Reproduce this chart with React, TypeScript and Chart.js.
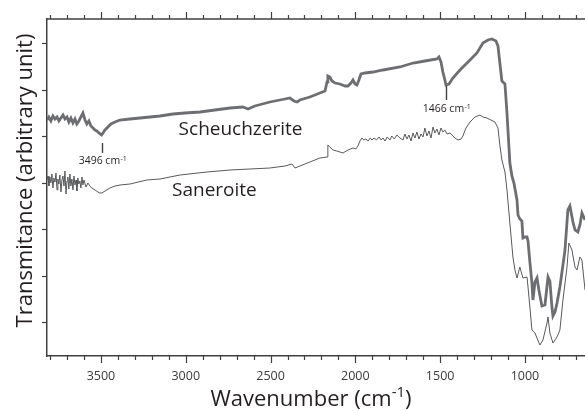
import { useEffect, useRef } from 'react';
import { Chart, registerables } from 'chart.js';

Chart.register(...registerables);

// ---- data (wavenumber in cm-1, transmittance in arbitrary units) ----
const scheuchWavenumber = [
  3818, 3807, 3795, 3783, 3771, 3759, 3748, 3736, 3724, 3712, 3700, 3689, 3677, 3665, 3653, 3642, 3630, 3618,
  3606, 3594, 3583, 3571, 3559, 3547, 3535, 3524, 3512, 3496, 3488, 3476, 3459, 3441, 3417, 3388, 3329, 3270,
  3211, 3152, 3075, 3005, 2916, 2828, 2739, 2663, 2633, 2592, 2504, 2415, 2386, 2362, 2344, 2327, 2268, 2209,
  2179, 2167, 2162, 2150, 2138, 2120, 2091, 2061, 2044, 2026, 2014, 2002, 1991, 1979, 1967, 1943, 1896, 1837,
  1737, 1660, 1590, 1519, 1507, 1495, 1484, 1472, 1466, 1448, 1425, 1383, 1324, 1283, 1248, 1218, 1195, 1171,
  1159, 1148, 1136, 1130, 1118, 1106, 1089, 1077, 1065, 1047, 1041, 1030, 1018, 1012, 1000, 988, 982, 971,
  959, 953, 941, 929, 918, 900, 882, 864, 853, 841, 835, 823, 811, 794, 776, 764, 747, 735, 717, 705, 688,
  676, 664, 646,
];
const scheuchValue = [
  236, 239, 235, 240, 237, 239, 235, 238, 241, 237, 239, 234, 238, 233, 237, 232, 235, 239,
  243, 236, 232, 235, 230, 228, 226, 225, 223, 221, 223, 226, 229, 232, 234, 236, 237, 238,
  239, 240, 242, 243, 244, 246, 248, 249, 247, 250, 254, 257, 258, 255, 254, 256, 259, 263,
  265, 274, 280, 279, 275, 273, 272, 270, 270, 273, 276, 272, 271, 276, 282, 283, 284, 286,
  289, 293, 295, 297, 299, 294, 284, 276, 271, 272, 278, 286, 296, 303, 313, 316, 317, 315,
  310, 293, 275, 274, 272, 243, 193, 180, 173, 156, 141, 137, 135, 118, 119, 119, 115, 94,
  73, 56, 74, 78, 66, 50, 51, 79, 75, 49, 40, 44, 53, 69, 91, 106, 146, 150, 134, 126, 124,
  131, 143, 136,
];

const saneroiteWavenumber = [
  3818, 3812, 3807, 3801, 3795, 3789, 3783, 3777, 3771, 3765, 3759, 3754, 3748, 3742, 3736, 3730, 3724, 3718,
  3712, 3706, 3700, 3695, 3689, 3683, 3677, 3671, 3665, 3659, 3653, 3647, 3642, 3636, 3630, 3624, 3618, 3612,
  3606, 3600, 3588, 3577, 3565, 3553, 3535, 3518, 3506, 3494, 3476, 3447, 3417, 3388, 3329, 3229, 3152, 3034,
  2875, 2739, 2622, 2504, 2415, 2374, 2356, 2327, 2268, 2209, 2167, 2162, 2150, 2132, 2109, 2073, 2044, 2014,
  1997, 1985, 1973, 1961, 1950, 1938, 1925, 1912, 1902, 1890, 1875, 1860, 1848, 1837, 1825, 1812, 1796, 1785,
  1770, 1755, 1737, 1719, 1708, 1696, 1684, 1672, 1660, 1649, 1637, 1625,
  1613, 1601, 1590, 1578, 1566, 1554, 1542, 1531, 1519, 1507, 1495, 1484, 1472, 1460, 1442, 1413, 1395, 1377,
  1366, 1348, 1324, 1295, 1265, 1248, 1224, 1201, 1177, 1159, 1148, 1136, 1118, 1106, 1089, 1071, 1059, 1047,
  1030, 1012, 988, 982, 971, 959, 941, 929, 912, 894, 870, 864, 853, 835, 811, 794, 776, 752, 741, 723, 705,
  693, 676, 664, 646,
];
const saneroiteValue = [
  176, 180, 170, 179, 173, 182, 168, 178, 174, 183, 166, 177, 172, 181, 164, 176, 180, 170,
  185, 162, 175, 179, 167, 182, 170, 177, 166, 180, 171, 176, 165, 178, 172, 175, 168, 179,
  171, 176, 169, 173, 170, 168, 166, 164, 163, 163, 165, 168, 170, 171, 172, 176, 177, 181,
  184, 186, 187, 188, 190, 192, 188, 190, 194, 198, 199, 211, 209, 206, 205, 203, 206, 208,
  207, 210, 215, 218, 216, 217, 215, 218, 216, 218, 216, 219, 216, 218, 215, 219, 216, 220,
  217, 221, 218, 216, 222, 217, 221, 215, 223, 218, 224, 217,
  222, 219, 228, 220, 225, 218, 229, 223, 227, 221, 228, 224, 226, 222, 223, 218, 216, 217,
  220, 228, 234, 239, 241, 239, 238, 236, 234, 228, 211, 196, 184, 166, 133, 99, 86, 78,
  89, 78, 79, 69, 49, 26, 23, 18, 11, 16, 33, 39, 23, 13, 19, 26, 56, 89, 113, 106, 89,
  86, 99, 96, 66,
];

const xMin = 646;
const xMax = 3818;
const yMin = 0;
const yMax = 337;
const xLabelTicks = [3500, 3000, 2500, 2000, 1500, 1000];
const xTickValues = [3800, 3700, 3600, 3500, 3400, 3300, 3200, 3100, 3000, 2900, 2800, 2700, 2600, 2500, 2400,
  2300, 2200, 2100, 2000, 1900, 1800, 1700, 1600, 1500, 1400, 1300, 1200, 1100, 1000, 900, 800, 700];
const yTickValues = [34, 80.45, 126.9, 173.35, 219.8, 266.25, 312.7];

const seriesNames = ['Scheuchzerite', 'Saneroite'];
const seriesLabelWavenumber = [2677, 2831];
const seriesLabelValue = [221, 160];

const peakWavenumbers = [3496, 1466];
const peakMarkTop = [213, 270];
const peakMarkBottom = [203, 256];
const peakTextValue = [192, 244];

const xTitle = 'Wavenumber (cm';
const xTitleSup = '-1';
const yTitle = 'Transmitance (arbitrary unit)';

// ---- styles ----
const FONT = '"Open Sans", "Noto Sans", sans-serif';
const AXIS_COLOR = '#404040';
const TEXT_COLOR = '#231f20';

const decorPlugin = {
  id: 'decor',
  afterDraw(chart: any) {
    const { ctx, chartArea } = chart;
    const xs = chart.scales.x;
    const ys = chart.scales.y;
    const { left, right, top, bottom } = chartArea;
    ctx.save();
    ctx.strokeStyle = AXIS_COLOR;
    ctx.lineWidth = 1.5;
    // top border
    ctx.beginPath();
    ctx.moveTo(left, top);
    ctx.lineTo(right, top);
    ctx.stroke();
    // x ticks (top and bottom)
    ctx.lineWidth = 1.2;
    for (const v of xTickValues) {
      const px = Math.round(xs.getPixelForValue(v)) + 0.5;
      const len = xLabelTicks.includes(v) ? 7 : 4;
      ctx.beginPath();
      ctx.moveTo(px, bottom);
      ctx.lineTo(px, bottom + len);
      ctx.moveTo(px, top);
      ctx.lineTo(px, top - len);
      ctx.stroke();
    }
    // y ticks
    for (const v of yTickValues) {
      const py = Math.round(ys.getPixelForValue(v)) + 0.5;
      ctx.beginPath();
      ctx.moveTo(left - 5, py);
      ctx.lineTo(left, py);
      ctx.stroke();
    }

    ctx.fillStyle = TEXT_COLOR;
    // x title with superscript
    {
      const mainFont = `22px ${FONT}`;
      const supFont = `15px ${FONT}`;
      ctx.font = mainFont;
      const w1 = ctx.measureText(xTitle).width;
      const w3 = ctx.measureText(')').width;
      ctx.font = supFont;
      const w2 = ctx.measureText(xTitleSup).width;
      const total = w1 + w2 + w3;
      let x = (left + right) / 2 - 5 - total / 2;
      const base = bottom + 50;
      ctx.textAlign = 'left';
      ctx.textBaseline = 'alphabetic';
      ctx.font = mainFont;
      ctx.fillText(xTitle, x, base);
      x += w1;
      ctx.font = supFont;
      ctx.fillText(xTitleSup, x, base - 9);
      x += w2;
      ctx.font = mainFont;
      ctx.fillText(')', x, base);
    }
    // y title
    {
      ctx.save();
      ctx.font = `22px ${FONT}`;
      ctx.textAlign = 'center';
      ctx.textBaseline = 'alphabetic';
      ctx.translate(31.5, (top + bottom) / 2 - 7);
      ctx.rotate(-Math.PI / 2);
      ctx.fillText(yTitle, 0, 0);
      ctx.restore();
    }
    // series labels
    ctx.font = `19px ${FONT}`;
    ctx.textAlign = 'center';
    ctx.textBaseline = 'alphabetic';
    seriesNames.forEach((name, i) => {
      ctx.fillText(name, xs.getPixelForValue(seriesLabelWavenumber[i]), ys.getPixelForValue(seriesLabelValue[i]));
    });
    // peak markers
    peakWavenumbers.forEach((wn, i) => {
      const px = Math.round(xs.getPixelForValue(wn)) + 0.5;
      ctx.strokeStyle = AXIS_COLOR;
      ctx.lineWidth = 1.4;
      ctx.beginPath();
      ctx.moveTo(px, ys.getPixelForValue(peakMarkTop[i]));
      ctx.lineTo(px, ys.getPixelForValue(peakMarkBottom[i]));
      ctx.stroke();
      const main = `${wn} cm`;
      const sup = '-1';
      ctx.font = `10.5px ${FONT}`;
      const a = ctx.measureText(main).width;
      ctx.font = `7px ${FONT}`;
      const b = ctx.measureText(sup).width;
      let x = px - (a + b) / 2;
      const base = ys.getPixelForValue(peakTextValue[i]);
      ctx.textAlign = 'left';
      ctx.font = `10.5px ${FONT}`;
      ctx.fillText(main, x, base);
      ctx.font = `7px ${FONT}`;
      ctx.fillText(sup, x + a + 0.5, base - 3.5);
    });
    ctx.restore();
  },
};

export default function App() {
  const ref = useRef<HTMLCanvasElement | null>(null);
  useEffect(() => {
    if (!ref.current) return;
    const chart = new Chart(ref.current, {
      type: 'line',
      data: {
        datasets: [
          {
            label: seriesNames[0],
            data: scheuchWavenumber.map((x, i) => ({ x, y: scheuchValue[i] })),
            borderColor: '#6d6e71',
            borderWidth: 2.8,
            pointRadius: 0,
            tension: 0,
            fill: false,
          },
          {
            label: seriesNames[1],
            data: saneroiteWavenumber.map((x, i) => ({ x, y: saneroiteValue[i] })),
            borderColor: '#58595b',
            borderWidth: 1,
            pointRadius: 0,
            tension: 0,
            fill: false,
          },
        ],
      },
      options: {
        responsive: false,
        animation: false,
        events: [],
        layout: { padding: { top: 19, left: 0, right: 0, bottom: 0 } },
        plugins: { legend: { display: false }, tooltip: { enabled: false } },
        scales: {
          x: {
            type: 'linear',
            position: 'bottom',
            reverse: true,
            min: xMin,
            max: xMax,
            grid: { display: false, drawTicks: false },
            border: { display: true, color: AXIS_COLOR, width: 1.5 },
            ticks: {
              padding: 13,
              color: '#3a3a3a',
              font: { family: FONT, size: 12.5 },
              maxRotation: 0,
              autoSkip: false,
              callback: (v: any) => String(v),
            },
            afterBuildTicks: (axis: any) => {
              axis.ticks = xLabelTicks.map((value) => ({ value }));
            },
            afterFit: (axis: any) => {
              axis.height = 55;
            },
          },
          y: {
            type: 'linear',
            min: yMin,
            max: yMax,
            grid: { display: false, drawTicks: false },
            border: { display: true, color: AXIS_COLOR, width: 1.5 },
            ticks: { display: false },
            afterBuildTicks: (axis: any) => {
              axis.ticks = yTickValues.map((value) => ({ value }));
            },
            afterFit: (axis: any) => {
              axis.width = 47;
            },
          },
        },
      },
      plugins: [decorPlugin],
    } as any);
    return () => chart.destroy();
  }, []);
  return (
    <canvas
      ref={ref}
      width={585}
      height={411}
      style={{ position: 'absolute', left: 0, top: 0, display: 'block' }}
    />
  );
}
